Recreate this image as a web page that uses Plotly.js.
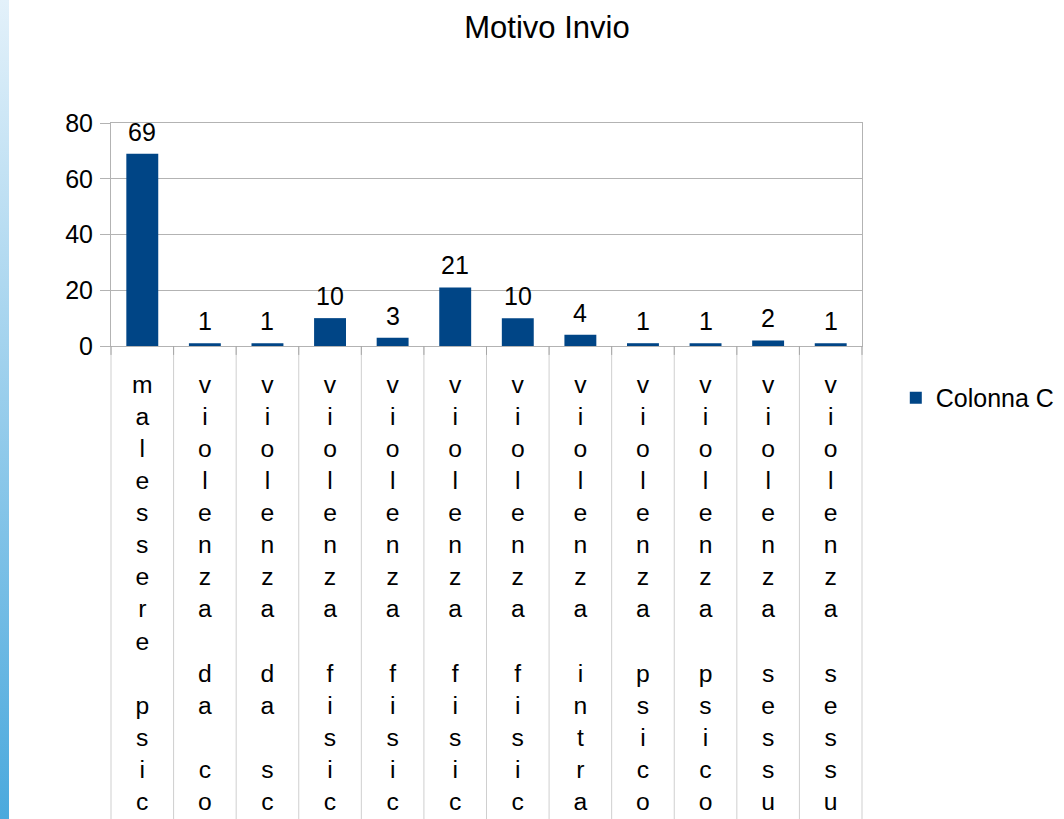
<!DOCTYPE html>
<html>
<head>
<meta charset="utf-8">
<script src="https://cdn.plot.ly/plotly-3.0.1.min.js"></script>
<style>
  html, body { margin: 0; padding: 0; background: #ffffff; }
  #strip { position: absolute; left: 0; top: 0; width: 9px; height: 819px;
           background: linear-gradient(to bottom, #e3f1fa, #4ba9dd); }
  #chart { position: absolute; left: 0; top: 0; width: 1064px; height: 819px; }
</style>
</head>
<body>
<div id="strip"></div>
<div id="chart"></div>
<script>
// Category labels as visible (cut off at the bottom of the picture)
const categories = [
  "malessere psic",
  "violenza da co",
  "violenza da sc",
  "violenza fisic",
  "violenza fisic",
  "violenza fisic",
  "violenza fisic",
  "violenza intra",
  "violenza psico",
  "violenza psico",
  "violenza sessu",
  "violenza sessu"
];
const values = [69, 1, 1, 10, 3, 21, 10, 4, 1, 1, 2, 1];
const seriesName = "Colonna C";
const yTickVals = [0, 20, 40, 60, 80];
const titleText = "Motivo Invio";

const ids = categories.map((c, i) => "c" + i);
const stacked = categories.map(s => s.split("").map(ch => ch === " " ? "\u00a0" : ch).join("<br>"));

const FONT = "Liberation Sans, Arial, sans-serif";

const trace = {
  type: "bar",
  x: ids,
  y: values,
  name: seriesName,
  marker: { color: "#004586" },
  hoverinfo: "y"
};

// value labels above the bars, positioned by the axes from the data
const annotations = values.map((v, i) => ({
  x: ids[i], y: v, xref: "x", yref: "y",
  text: String(v), showarrow: false,
  xanchor: "center", yanchor: "bottom", yshift: 6,
  font: { family: FONT, size: 25, color: "#000000" }
}));

// category separators below the axis (light long lines + short darker ticks)
const shapes = [];
const n = categories.length;
for (let i = 0; i <= n; i++) {
  shapes.push({
    type: "line", xref: "paper", yref: "paper",
    x0: i / n, x1: i / n, y0: 0, y1: -2.2,
    line: { color: "#cfcfcf", width: 1 }, layer: "below"
  });
  shapes.push({
    type: "line", xref: "paper", yref: "paper",
    x0: i / n, x1: i / n, y0: 0, y1: -0.04,
    line: { color: "#a6a6a6", width: 1 }, layer: "above"
  });
}

const layout = {
  width: 1064,
  height: 819,
  margin: { l: 111, r: 202, t: 123, b: 473, pad: 0, autoexpand: false },
  paper_bgcolor: "rgba(0,0,0,0)",
  plot_bgcolor: "#ffffff",
  font: { family: FONT, size: 25, color: "#000000" },
  title: {
    text: titleText,
    font: { family: FONT, size: 31, color: "#000000" },
    xref: "container", x: 547 / 1064, xanchor: "center",
    yref: "container", y: 1 - 27 / 819, yanchor: "middle"
  },
  bargap: 0.49,
  showlegend: true,
  legend: {
    x: 1.045, xanchor: "left",
    y: -0.233, yanchor: "middle",
    font: { family: FONT, size: 25, color: "#000000" },
    bgcolor: "rgba(0,0,0,0)"
  },
  xaxis: {
    type: "category",
    tickmode: "array",
    tickvals: ids,
    ticktext: stacked,
    ticks: "",
    showgrid: false,
    showline: true,
    linecolor: "#b3b3b3",
    linewidth: 1,
    mirror: true,
    tickfont: { family: FONT, size: 24.7, color: "#000000" },
    ticklabelstandoff: 16,
    fixedrange: true
  },
  yaxis: {
    range: [0, 80],
    tickmode: "array",
    tickvals: yTickVals,
    ticks: "outside",
    ticklen: 10,
    tickcolor: "#b3b3b3",
    showgrid: true,
    gridcolor: "#b3b3b3",
    gridwidth: 1,
    zeroline: false,
    showline: true,
    linecolor: "#b3b3b3",
    mirror: true,
    tickfont: { family: FONT, size: 25, color: "#000000" },
    ticklabelstandoff: 2,
    fixedrange: true
  },
  annotations: annotations,
  shapes: shapes
};

Plotly.newPlot("chart", [trace], layout, { displayModeBar: false });
</script>
</body>
</html>
